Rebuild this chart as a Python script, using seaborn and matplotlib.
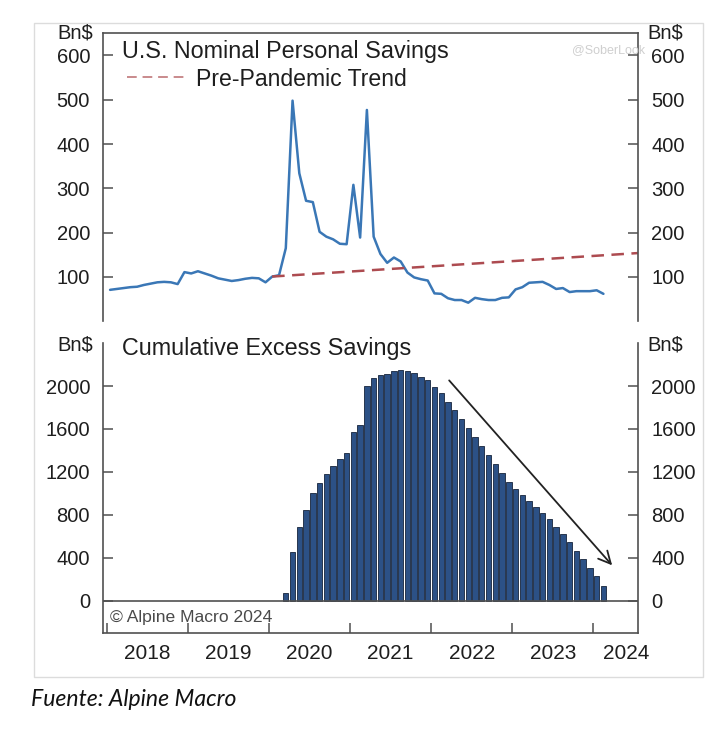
import numpy as np
import pandas as pd
import matplotlib
matplotlib.use("Agg")
import matplotlib.pyplot as plt
import seaborn as sns
from matplotlib.patches import Rectangle

# Данные (чтение с картинки)
savings_start = "2018-01"
savings = [
    71, 73, 75, 77, 78, 82, 85, 88, 89, 88, 84, 111,
    108, 113, 108, 103, 97, 94, 91, 93, 96, 98, 97, 88,
    101, 104, 165, 498, 334, 272, 269, 202, 191, 185, 175, 174,
    308, 189, 477, 191, 152, 132, 144, 135, 110, 99, 95, 92,
    63, 62, 52, 48, 48, 42, 53, 50, 48, 48, 53, 54,
    72, 77, 87, 88, 89, 82, 73, 75, 66, 68, 68, 68,
    70, 62,
]
trend_x = [2020.04, 2024.55]
trend_y = [101, 154]

excess_start = "2020-03"
excess = [
    69, 457, 683, 845, 1006, 1099, 1178, 1255, 1317, 1373,
    1571, 1637, 2000, 2071, 2103, 2112, 2137, 2149, 2140, 2118,
    2087, 2056, 1988, 1932, 1854, 1779, 1690, 1606, 1522, 1444,
    1357, 1273, 1187, 1103, 1043, 982, 929, 876, 820, 758,
    689, 621, 544, 466, 386, 307, 230, 140,
]

years = [2018, 2019, 2020, 2021, 2022, 2023, 2024]
year_labels = ["2018", "2019", "2020", "2021", "2022", "2023", "2024"]
top_yticks = [100, 200, 300, 400, 500, 600]
bot_yticks = [0, 400, 800, 1200, 1600, 2000]


def month_pos(start, n):
    d = pd.date_range(start, periods=n, freq="MS")
    return d.year + (d.month - 0.5) / 12


x_sav = month_pos(savings_start, len(savings))
x_exc = month_pos(excess_start, len(excess))

sns.set_theme(style="white")
plt.rcParams["font.family"] = ["Liberation Sans", "DejaVu Sans"]

W, H = 720, 734
fig = plt.figure(figsize=(W / 100, H / 100), dpi=100)
fig.patch.set_facecolor("white")

XMIN, XMAX = 2017.958, 2024.555
spine_c = "#505050"
txt_c = "#1e1e1e"
FS = 14.5
TFS = 16.8

# Рамка вокруг графика
fig.patches.append(Rectangle((34 / W, 1 - 677 / H), (703 - 34) / W, (677 - 23) / H,
                             transform=fig.transFigure, fill=False,
                             edgecolor="#dcdcdc", lw=1.0))

# ---------- верхний график ----------
ax1 = fig.add_axes([103.3 / W, 1 - 321.3 / H, 535 / W, 288 / H])
sns.lineplot(x=x_sav, y=savings, ax=ax1, color="#3a77b6", lw=1.8)
sns.lineplot(x=trend_x, y=trend_y, ax=ax1, color="#ad4b50", lw=1.8,
             dashes=False, linestyle=(0, (5, 3)), label="Pre-Pandemic Trend")
ax1.set_xlim(XMIN, XMAX)
ax1.set_ylim(0, 650)
ax1.set_xlabel("")
ax1.set_ylabel("")
ax1.set_xticks([])
ax1.set_yticks(top_yticks)
ax1.spines["bottom"].set_visible(False)
for s in ["top", "left", "right"]:
    ax1.spines[s].set_color(spine_c)
    ax1.spines[s].set_linewidth(1.2)
ax1.tick_params(axis="y", direction="in", length=7, width=1.1, color=spine_c,
                left=True, right=True, labelleft=True, labelright=True,
                labelsize=FS, labelcolor=txt_c, pad=9.5)

leg = ax1.legend(loc="center left", bbox_to_anchor=((126.7 - 103.3) / 535, (321.3 - 79) / 288),
                 frameon=False, borderpad=0, borderaxespad=0, handlelength=2.5,
                 handletextpad=0.5, fontsize=16.6, labelcolor=txt_c)
for h in leg.get_lines():
    h.set_color("#c98a8c")
    h.set_linewidth(1.4)
ax1.text((121.7 - 103.3) / 535, (321.3 - 51.7) / 288, "U.S. Nominal Personal Savings",
         transform=ax1.transAxes, ha="left", va="center", fontsize=TFS, color=txt_c)

# водяной знак
fig.text(572 / W, 1 - 50 / H, "@SoberLook", fontsize=9, color="#cfcfcf",
         ha="left", va="center")

fig.text(93 / W, 1 - 33 / H, "Bn$", ha="right", va="center", fontsize=FS, color=txt_c)
fig.text(647 / W, 1 - 33 / H, "Bn$", ha="left", va="center", fontsize=FS, color=txt_c)

# ---------- нижний график ----------
ax2 = fig.add_axes([103.3 / W, 1 - 633 / H, 535 / W, 289.9 / H])
sns.barplot(x=x_exc, y=excess, ax=ax2, native_scale=True, width=0.8,
            color="#2c5186", saturation=1, edgecolor="#16243b", linewidth=0.6)
ax2.axhline(0, color=spine_c, lw=1.2, zorder=3)
ax2.set_xlim(XMIN, XMAX)
ax2.set_ylim(-300, 2400)
ax2.set_xlabel("")
ax2.set_ylabel("")
ax2.set_yticks(bot_yticks)
ax2.spines["top"].set_visible(False)
for s in ["bottom", "left", "right"]:
    ax2.spines[s].set_color(spine_c)
    ax2.spines[s].set_linewidth(1.2)
ax2.tick_params(axis="y", direction="in", length=7, width=1.1, color=spine_c,
                left=True, right=True, labelleft=True, labelright=True,
                labelsize=FS, labelcolor=txt_c, pad=9.5)

# года: засечки на начале года, подписи по середине
ax2.set_xticks(years)
ax2.set_xticklabels([])
label_pos = [y + 0.5 for y in years[:-1]] + [2024.4]
ax2.set_xticks(label_pos, minor=True)
ax2.set_xticklabels(year_labels, minor=True)
ax2.tick_params(axis="x", which="major", direction="in", length=7, width=1.1,
                color=spine_c, bottom=True)
ax2.tick_params(axis="x", which="minor", length=0, pad=8, labelsize=15,
                labelcolor=txt_c, bottom=True)

ax2.annotate("", xy=(2024.255, 311), xytext=(2022.2, 2072),
             arrowprops=dict(arrowstyle="->", color="#222222", lw=1.3,
                             mutation_scale=22))

ax2.text((121.7 - 103.3) / 535, (633 - 349) / 289.9, "Cumulative Excess Savings",
         transform=ax2.transAxes, ha="left", va="center", fontsize=TFS, color=txt_c)
ax2.text((110 - 103.3) / 535, (633 - 617.3) / 289.9, "\u00a9 Alpine Macro 2024",
         transform=ax2.transAxes, ha="left", va="center", fontsize=12.6, color="#4a4a4a")

fig.text(93 / W, 1 - 345 / H, "Bn$", ha="right", va="center", fontsize=FS, color=txt_c)
fig.text(647 / W, 1 - 345 / H, "Bn$", ha="left", va="center", fontsize=FS, color=txt_c)

fig.text(31 / W, 1 - 700 / H, "Fuente: Alpine Macro", ha="left", va="center",
         fontsize=16.6, style="italic", family=["Lato", "DejaVu Sans"], color="#111111")

fig.savefig("out.png", dpi=100)
